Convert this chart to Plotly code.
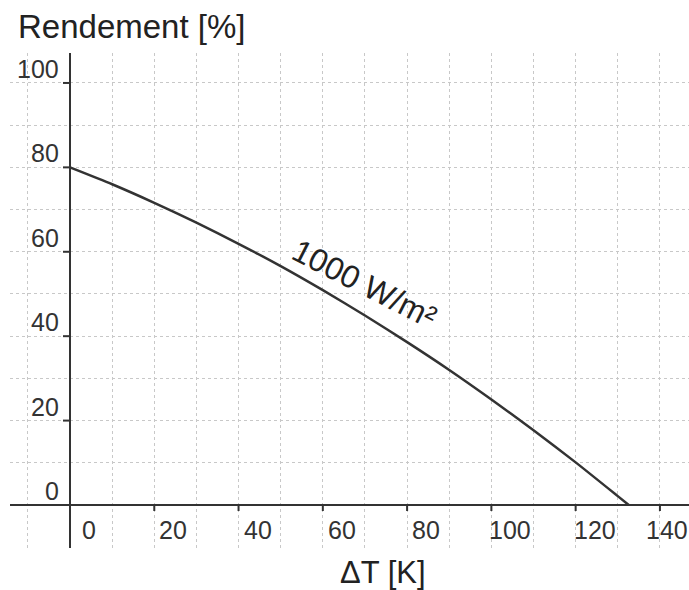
import plotly.graph_objects as go

# Data
delta_t = [0, 10, 20, 30, 40, 50, 60, 70, 80, 90, 100, 110, 120, 130, 132.6]
efficiency = [80.0, 76.0, 71.6, 66.9, 61.9, 56.6, 50.9, 44.9, 38.6, 32.0, 25.0, 17.7, 10.1, 2.1, 0.0]

x_ticks = [20, 40, 60, 80, 100, 120, 140]
x_tick_labels = ["0", "20", "40", "60", "80", "100", "120", "140"]
x_label_values = [0, 20, 40, 60, 80, 100, 120, 140]
y_ticks = [20, 40, 60, 80, 100]
y_label_values = [0, 20, 40, 60, 80, 100]
y_tick_labels = ["0", "20", "40", "60", "80", "100"]

curve_label = "1000 W/m²"
x_title = "ΔT [K]"
y_title = "Rendement [%]"

AXIS_COLOR = "#333333"
TEXT_COLOR = "#222222"
FONT = "Liberation Sans, Arial, sans-serif"

fig = go.Figure()
fig.add_trace(go.Scatter(
    x=delta_t, y=efficiency, mode="lines",
    line=dict(color="#333333", width=2.5, shape="spline", smoothing=0.6),
    hoverinfo="skip", showlegend=False,
))

axis_common = dict(
    showgrid=True, gridcolor="#c8c8c8", gridwidth=1, griddash="3px,3px",
    dtick=10, tick0=0, zeroline=True, zerolinecolor=AXIS_COLOR, zerolinewidth=2,
    showticklabels=False, ticks="", showline=False, fixedrange=True,
)
fig.update_xaxes(range=[-14.24, 146.9], **axis_common)
fig.update_yaxes(range=[-10.19, 107.1], **axis_common)

shapes = []
for xv in x_ticks:
    shapes.append(dict(type="line", xref="x", yref="y", x0=xv, x1=xv,
                       ysizemode="pixel", yanchor=0, y0=0, y1=-6,
                       line=dict(color=AXIS_COLOR, width=2)))
for yv in y_ticks:
    shapes.append(dict(type="line", xref="x", yref="y", y0=yv, y1=yv,
                       xsizemode="pixel", xanchor=0, x0=-7, x1=0,
                       line=dict(color=AXIS_COLOR, width=2)))

annotations = []
x_shift_last = {140: 7}
for val, txt in zip(x_label_values, x_tick_labels):
    annotations.append(dict(x=val, y=0, xref="x", yref="y", text=txt, showarrow=False,
                            xanchor="center", yanchor="middle",
                            xshift=x_shift_last.get(val, 19), yshift=-25,
                            font=dict(family=FONT, size=25, color="#333333")))
for val, txt in zip(y_label_values, y_tick_labels):
    annotations.append(dict(x=0, y=val, xref="x", yref="y", text=txt, showarrow=False,
                            xanchor="right", yanchor="middle",
                            xshift=-9, yshift=14,
                            font=dict(family=FONT, size=25, color="#333333")))

annotations.append(dict(x=(16 - 10) / 679, y=1.0545, xref="paper", yref="paper",
                        text=y_title, showarrow=False, xanchor="left", yanchor="middle",
                        font=dict(family=FONT, size=33, color=TEXT_COLOR)))
annotations.append(dict(x=0.549, y=-0.0485, xref="paper", yref="paper",
                        text=x_title, showarrow=False, xanchor="center", yanchor="middle",
                        font=dict(family=FONT, size=31, color=TEXT_COLOR)))
annotations.append(dict(x=70.0, y=52.3, xref="x", yref="y", text=curve_label,
                        showarrow=False, textangle=27, xanchor="center", yanchor="middle",
                        font=dict(family=FONT, size=32, color=TEXT_COLOR)))

fig.update_layout(
    width=689, height=590,
    margin=dict(l=10, r=0, t=53, b=42),
    paper_bgcolor="white", plot_bgcolor="white",
    shapes=shapes, annotations=annotations,
    showlegend=False,
)

fig.write_html("out.html", config={"displayModeBar": False})
